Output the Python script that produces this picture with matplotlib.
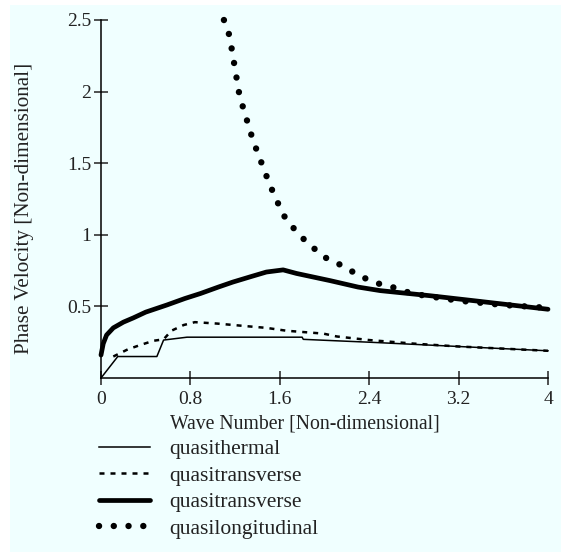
import matplotlib.pyplot as plt
from matplotlib.patches import Rectangle

plt.rcParams['font.family'] = ['Liberation Serif', 'DejaVu Serif']

# quasithermal (thin solid)
k_th = [0.0, 0.15, 0.5, 0.56, 0.77, 1.0, 1.4, 1.8, 1.81, 2.1, 2.4, 2.8, 3.2, 3.6, 4.0]
v_th = [0.0, 0.15, 0.15, 0.265, 0.285, 0.285, 0.285, 0.285, 0.27, 0.26, 0.25, 0.235, 0.22, 0.205, 0.19]

# quasitransverse (dashed)
k_tr1 = [0.11, 0.24, 0.35, 0.47, 0.56, 0.63, 0.74, 0.84, 1.04, 1.33, 1.48, 1.66, 1.99, 2.11,
         2.4, 2.8, 3.2, 3.6, 4.0]
v_tr1 = [0.15, 0.20, 0.23, 0.26, 0.27, 0.33, 0.37, 0.39, 0.38, 0.36, 0.35, 0.33, 0.31, 0.29,
         0.265, 0.24, 0.22, 0.205, 0.19]

# quasitransverse (thick solid)
k_tr2 = [0.0, 0.02, 0.05, 0.11, 0.2, 0.29, 0.4, 0.59, 0.75, 0.89, 1.05, 1.18, 1.35, 1.48,
         1.63, 1.75, 2.05, 2.3, 2.5, 2.94, 3.39, 4.0]
v_tr2 = [0.16, 0.24, 0.30, 0.35, 0.39, 0.42, 0.46, 0.51, 0.555, 0.59, 0.635, 0.67, 0.71, 0.74,
         0.755, 0.73, 0.68, 0.635, 0.61, 0.575, 0.535, 0.48]

# quasilongitudinal (dots)
k_lo = [1.10, 1.15, 1.24, 1.36, 1.51, 1.63, 1.73, 1.85, 2.01, 2.17, 2.32, 2.48, 2.63, 2.78,
        2.94, 3.2, 3.6, 4.0]
v_lo = [2.5, 2.39, 1.97, 1.66, 1.35, 1.14, 1.04, 0.94, 0.84, 0.78, 0.71, 0.66, 0.63, 0.59,
        0.57, 0.54, 0.51, 0.49]

xticks = [0, 0.8, 1.6, 2.4, 3.2, 4]
xticklabels = ['0', '0.8', '1.6', '2.4', '3.2', '4']
yticks = [0.5, 1, 1.5, 2, 2.5]
yticklabels = ['0.5', '1', '1.5', '2', '2.5']

W, H = 561, 554
fig = plt.figure(figsize=(W / 100, H / 100), dpi=100)
fig.patch.set_facecolor('white')
fig.patches.append(Rectangle((10 / W, 2 / H), 1 - 10 / W, 1 - 7 / H,
                             transform=fig.transFigure, facecolor='#f0ffff',
                             edgecolor='none', zorder=-5))

ax = fig.add_axes([101 / W, 1 - 378 / H, 447 / W, 358 / H])
ax.patch.set_visible(False)

l1, = ax.plot(k_th, v_th, color='black', lw=1.1, clip_on=False)
l2, = ax.plot(k_tr1, v_tr1, color='black', lw=1.8, linestyle=(0, (2, 2.4)), clip_on=False)
l3, = ax.plot(k_tr2, v_tr2, color='black', lw=3.4, solid_capstyle='round',
              solid_joinstyle='round', clip_on=False)
l4, = ax.plot(k_lo, v_lo, color='black', lw=4.6, linestyle=(0, (0.01, 2.3)),
              dash_capstyle='round', clip_on=False)

ax.set_xlim(0, 4)
ax.set_ylim(0, 2.5)
for s in ['top', 'right']:
    ax.spines[s].set_visible(False)
for s in ['left', 'bottom']:
    ax.spines[s].set_linewidth(1.1)

ax.set_xticks(xticks)
ax.set_xticklabels(xticklabels)
ax.set_yticks(yticks)
ax.set_yticklabels(yticklabels)
ax.tick_params(direction='inout', length=10, width=1.1, labelsize=14, colors='#222222')
ax.tick_params(axis='y', pad=2)
ax.tick_params(axis='x', pad=4)

fig.text(25 / W, 1 - 208 / H, 'Phase Velocity [Non-dimensional]', fontsize=15.2,
         rotation=90, ha='center', va='center', color='#222222')
fig.text(170 / W, 1 - 424 / H, 'Wave Number [Non-dimensional]', fontsize=14.2,
         ha='left', va='center', color='#222222')

fig.legend([l1, l2, l3, l4],
           ['quasithermal', 'quasitransverse', 'quasitransverse', 'quasilongitudinal'],
           loc='upper left', bbox_to_anchor=(99 / W, 1 - 439 / H), frameon=False,
           fontsize=15.5, handlelength=2.35, handletextpad=0.9, labelspacing=0.30,
           borderpad=0, borderaxespad=0, labelcolor='#222222')

fig.savefig('out.png', dpi=100)
